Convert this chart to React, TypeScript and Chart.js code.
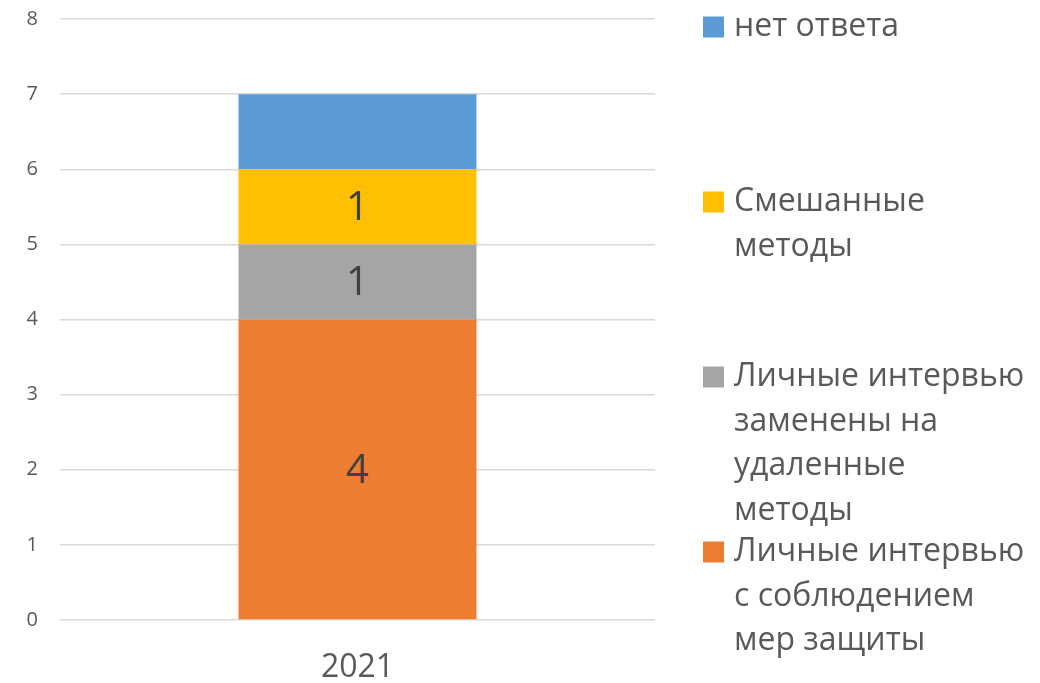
import React, { useEffect, useRef } from "react";
import { Chart, registerables } from "chart.js";

Chart.register(...registerables);

const categories = ["2021"];
const seriesNames = [
  "Личные интервью с соблюдением мер защиты",
  "Личные интервью заменены на удаленные методы",
  "Смешанные методы",
  "нет ответа",
];
const legendLines = [
  ["Личные интервью", "с соблюдением", "мер защиты"],
  ["Личные интервью", "заменены на", "удаленные", "методы"],
  ["Смешанные", "методы"],
  ["нет ответа"],
];
const protectedValues = [4];
const replacedValues = [1];
const mixedValues = [1];
const noAnswerValues = [1];
const showValueLabel = [true, true, true, false];
const colors = ["#ED7D31", "#A5A5A5", "#FFC000", "#5B9BD5"];
const yTicks = [0, 1, 2, 3, 4, 5, 6, 7, 8];

const FONT = "'Open Sans', 'Noto Sans', sans-serif";

const valueLabelPlugin = {
  id: "valueLabels",
  afterDatasetsDraw(chart: any) {
    const ctx = chart.ctx;
    ctx.save();
    ctx.font = `40px ${FONT}`;
    ctx.fillStyle = "#404040";
    ctx.textAlign = "center";
    ctx.textBaseline = "middle";
    chart.data.datasets.forEach((ds: any, i: number) => {
      if (!showValueLabel[i]) return;
      const meta = chart.getDatasetMeta(i);
      meta.data.forEach((bar: any, j: number) => {
        const c = bar.getCenterPoint();
        ctx.fillText(String(ds.data[j]), c.x, c.y + 2);
      });
    });
    ctx.restore();
  },
};

const sideLegendPlugin = {
  id: "sideLegend",
  afterDraw(chart: any) {
    const ctx = chart.ctx;
    ctx.save();
    const boxX = 703;
    const textX = 734;
    const box = 21;
    const startY = 27;
    const step = 175;
    const lineH = 44.5;
    ctx.font = `32px ${FONT}`;
    ctx.textAlign = "left";
    ctx.textBaseline = "middle";
    const n = chart.data.datasets.length;
    for (let k = 0; k < n; k++) {
      const i = n - 1 - k;
      const ds = chart.data.datasets[i];
      const y = startY + k * step;
      ctx.fillStyle = ds.backgroundColor;
      ctx.fillRect(boxX, y - box / 2, box, box);
      ctx.fillStyle = "#595959";
      legendLines[i].forEach((line: string, li: number) => {
        ctx.fillText(line, textX, y + li * lineH);
      });
    }
    ctx.restore();
  },
};

export default function App() {
  const ref = useRef<HTMLCanvasElement>(null);
  useEffect(() => {
    document.body.style.margin = "0";
    const values = [protectedValues, replacedValues, mixedValues, noAnswerValues];
    const chart = new Chart(ref.current as HTMLCanvasElement, {
      type: "bar",
      data: {
        labels: categories,
        datasets: seriesNames.map((name, i) => ({
          label: name,
          data: values[i],
          backgroundColor: colors[i],
          borderWidth: 0,
          categoryPercentage: 1,
          barPercentage: 0.4,
        })),
      },
      options: {
        animation: false,
        responsive: false,
        maintainAspectRatio: false,
        layout: { padding: { top: 19, right: 385, left: 0, bottom: 0 } },
        plugins: {
          legend: { display: false },
          tooltip: { enabled: false },
        },
        scales: {
          x: {
            stacked: true,
            grid: { display: false, drawTicks: false },
            border: { display: false },
            ticks: {
              color: "#595959",
              font: { family: FONT, size: 32 },
              padding: 29,
            },
            afterFit(scale: any) {
              scale.height = 63;
            },
          },
          y: {
            stacked: true,
            min: 0,
            max: 8,
            grid: { color: "#D9D9D9", lineWidth: 1.5, drawTicks: false },
            border: { display: false },
            afterBuildTicks(scale: any) {
              scale.ticks = yTicks.map((v) => ({ value: v }));
            },
            ticks: {
              color: "#595959",
              font: { family: FONT, size: 20 },
              padding: 22,
            },
            afterFit(scale: any) {
              scale.width = 60;
              scale.paddingTop = 0;
              scale.paddingBottom = 0;
            },
          },
        },
      },
      plugins: [valueLabelPlugin, sideLegendPlugin],
    });
    return () => chart.destroy();
  }, []);
  return (
    <div style={{ width: 1040, height: 683, position: "relative" }}>
      <canvas ref={ref} width={1040} height={683} style={{ display: "block" }} />
    </div>
  );
}
